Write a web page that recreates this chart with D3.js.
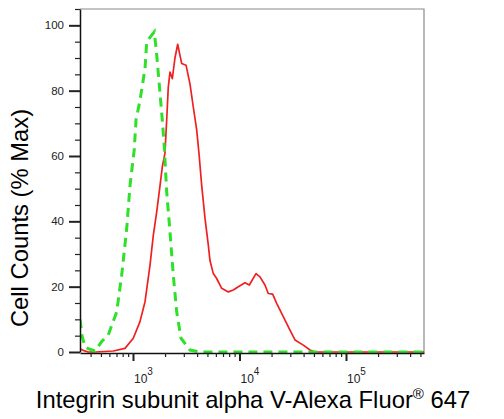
<!DOCTYPE html>
<html>
<head>
<meta charset="utf-8">
<script src="https://cdn.jsdelivr.net/npm/d3@7"></script>
<style>
  body { margin: 0; background: #fff; }
  text { font-family: "Liberation Sans", Arial, sans-serif; }
</style>
</head>
<body>
<svg width="504" height="419"></svg>
<script>
const svg = d3.select("svg");

// fluorescence intensity (x) and % max (y)
const greenX = [318, 332, 354, 380, 440, 508, 586, 703, 783, 873, 938, 1028, 1067, 1163, 1297, 1345, 1585, 1670, 1795, 1885, 1968, 2072, 2225, 2390, 2572, 2824, 3430, 4260, 540000];
const greenY = [10, 5, 1.6, 1.0, 0.3, 3.2, 5.2, 12.3, 23.5, 37.8, 51, 62, 71, 77, 86.8, 95, 98, 91, 79, 71, 62.8, 49, 36.8, 23.5, 12.3, 4.2, 0.6, 0, 0];

const redX = [318, 340, 380, 440, 653, 841, 1006, 1163, 1297, 1445, 1552, 1670, 1795, 1885, 1995, 2072, 2144, 2225, 2339, 2478, 2628, 2866, 3148, 3430, 3683, 3964, 4168, 4416, 4745, 5096, 5284, 5675, 6105, 6805, 7852, 8750, 9750, 11270, 12360, 14290, 15570, 17340, 18620, 20490, 22340, 25770, 29780, 33200, 39720, 45920, 51170, 540000];
const redY = [1, 0.5, 0, 0, 0.3, 1.1, 4.2, 9.3, 15.4, 26.6, 35.8, 42.9, 51, 56.7, 60.8, 71, 81, 85.7, 83.7, 90, 94.2, 88.3, 87.8, 82, 75, 68, 60.7, 51, 40.9, 32.7, 28, 24, 22.5, 19.5, 18.4, 19, 20, 21.2, 20.5, 24, 23, 20.5, 17.9, 17.7, 14.9, 10.8, 6.7, 3.7, 2.1, 0.6, 0, 0];

const xDomain = [318, 540000];
const yDomain = [0, 105];
const yLabels = [0, 20, 40, 60, 80, 100];
const xDecades = [3, 4, 5];

const plotL = 80, plotR = 424, plotT = 9, plotB = 352;

const x = d3.scaleLog().domain(xDomain).range([plotL, plotR]);
const y = d3.scaleLinear().domain(yDomain).range([plotB, plotT]);

// frame (top and right)
svg.append("path")
  .attr("d", `M${plotL},${plotT}H${plotR}V${plotB + 1}`)
  .attr("fill", "none").attr("stroke", "#8a8a8a").attr("stroke-width", 1.2);

// clip
svg.append("clipPath").attr("id", "plot")
  .append("rect").attr("x", plotL).attr("y", plotT - 2).attr("width", plotR - plotL).attr("height", plotB - plotT + 3);

const g = svg.append("g").attr("clip-path", "url(#plot)");
const line = d3.line().x(d => x(d[0])).y(d => y(Math.max(0, d[1])));

g.append("path")
  .datum(redX.map((v, i) => [v, redY[i]]))
  .attr("d", line)
  .attr("fill", "none").attr("stroke", "#f02020").attr("stroke-width", 1.7)
  .attr("stroke-linejoin", "round");

g.append("path")
  .datum(greenX.map((v, i) => [v, greenY[i]]))
  .attr("d", line)
  .attr("fill", "none").attr("stroke", "#2ee02a").attr("stroke-width", 3)
  .attr("stroke-dasharray", "9,6");

// x axis ticks: majors at decades, minors at 2..9
const xTicks = [];
for (let k = 2; k <= 5; k++) {
  for (let m = 1; m <= 9; m++) {
    const v = m * Math.pow(10, k);
    if (v >= xDomain[0] && v <= xDomain[1]) xTicks.push(v);
  }
}
const isMajorX = v => Math.abs(Math.log10(v) - Math.round(Math.log10(v))) < 1e-9;

const xAxis = svg.append("g")
  .attr("transform", `translate(0,${plotB + 1})`)
  .call(d3.axisBottom(x).tickValues(xTicks).tickFormat("").tickSizeOuter(0));
xAxis.select(".domain").attr("stroke", "#111").attr("stroke-width", 1.5);
xAxis.selectAll(".tick line")
  .attr("stroke", "#222")
  .attr("y2", d => isMajorX(d) ? 8 : 4)
  .attr("stroke-width", d => isMajorX(d) ? 2 : 1.2);

xDecades.forEach(k => {
  const t = svg.append("text")
    .attr("x", x(Math.pow(10, k)) + 1)
    .attr("y", 383)
    .attr("font-size", 12).attr("fill", "#222");
  t.append("tspan").text("10");
  t.append("tspan").attr("dy", -8).attr("font-size", 10).text(k);
});

// y axis
const yTicks = d3.range(0, 106, 5);
const yAxis = svg.append("g")
  .attr("transform", `translate(${plotL},0)`)
  .call(d3.axisLeft(y).tickValues(yTicks).tickFormat("").tickSizeOuter(0));
yAxis.select(".domain").attr("stroke", "#111").attr("stroke-width", 1.5);
yAxis.selectAll(".tick line")
  .attr("stroke", "#222")
  .attr("x2", d => d % 20 === 0 ? -11 : -5)
  .attr("stroke-width", d => d % 20 === 0 ? 2 : 1.2);

svg.selectAll(".ylab").data(yLabels).enter().append("text")
  .attr("class", "ylab")
  .attr("x", 64).attr("y", d => y(d) + 4)
  .attr("text-anchor", "end").attr("font-size", 11.5).attr("fill", "#222")
  .text(d => d);

// axis titles
svg.append("text")
  .attr("transform", "translate(28,218) rotate(-90)")
  .attr("text-anchor", "middle").attr("font-size", 23.8).attr("fill", "#000")
  .text("Cell Counts (% Max)");

const xt = svg.append("text")
  .attr("x", 253).attr("y", 408)
  .attr("text-anchor", "middle").attr("font-size", 23.8).attr("fill", "#000");
xt.append("tspan").text("Integrin subunit alpha V-Alexa Fluor");
xt.append("tspan").attr("dy", -9).attr("font-size", 15).text("®");
xt.append("tspan").attr("dy", 9).text(" 647");
</script>
</body>
</html>
